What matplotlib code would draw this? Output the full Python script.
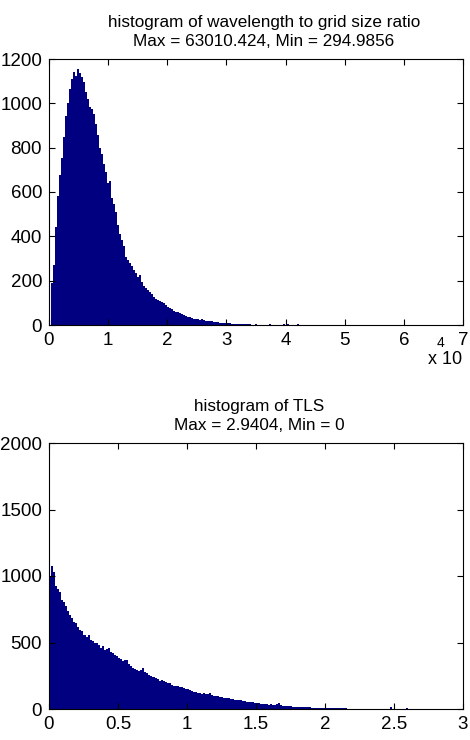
import numpy as np
import matplotlib
matplotlib.use("Agg")
import matplotlib.pyplot as plt

plt.rcParams["font.family"] = ["Liberation Sans", "DejaVu Sans"]

# histogram 1: wavelength to grid size ratio
ratio_min = 294.9856
ratio_max = 63010.424
ratio_counts = (
    [190, 270, 440, 580, 675, 755, 850, 945, 1000, 1065,
     1110, 1140, 1125, 1155, 1135, 1120, 1095, 1050, 1020, 985,
     975, 950, 905, 855, 800, 770, 725, 690, 640, 648,
     575, 545, 510, 450, 412, 385, 355, 305, 295, 278,
     268, 250, 236, 218, 225, 192, 175, 166, 158, 150,
     140, 125, 116, 112, 107, 104, 99, 90, 82, 76,
     74, 62, 60, 58, 54, 50, 45, 42, 37, 34,
     30, 27, 25, 26, 24, 26, 22, 20, 18, 17,
     16, 15, 14, 12, 11, 11, 9, 8, 8, 7,
     6, 6, 5, 5, 4, 4, 3, 4, 3, 3,
     2,
     2, 3, 2, 2, 2, 1, 2, 1, 3, 1, 1, 2, 1, 1, 2, 3, 1, 3, 0, 1,
     1, 0, 3, 2, 0]
    + [0] * 58
    + [1]
)
ratio_ticks = [0, 1, 2, 3, 4, 5, 6, 7]
ratio_yticks = [0, 200, 400, 600, 800, 1000, 1200]

# histogram 2: TLS
tls_min = 0
tls_max = 2.9404
tls_counts = (
    [990, 1075, 1030, 925, 900, 878, 820, 808, 775, 735,
     705, 685, 655, 650, 620, 595, 583, 560, 545, 558,
     520, 510, 500, 495, 478, 462, 470, 443, 448, 455,
     432, 420, 405, 395, 387, 378, 360, 365, 372, 340,
     325, 310, 302, 295, 285, 290, 310, 275, 268, 255,
     248, 242, 236, 228, 212, 215, 208, 200, 196, 198,
     182, 176, 172, 170, 166, 162, 155, 150, 147, 140,
     134, 128, 125, 122, 118, 116, 117, 112, 110, 122,
     105, 96, 100, 98, 92, 88, 82, 83, 80, 75,
     73, 70, 67, 66, 64, 60, 57, 56, 52, 50,
     50, 47, 46, 42, 41, 38, 37, 35, 33, 34,
     31, 30, 36, 47, 28, 25, 24, 22, 21, 20,
     18, 17, 17, 16, 15, 15, 14, 12, 12, 11,
     11, 10, 10, 9, 8, 8, 7, 7, 6, 6,
     6, 5, 5, 5, 4, 4, 4, 3, 3, 3,
     3, 2,
     2, 2, 2, 1, 2, 1, 1, 1, 1,
     1, 1, 0, 1, 0, 1, 0, 12, 1, 0,
     0, 0, 0, 0, 0, 4, 0, 0, 0, 0]
    + [0] * 18
    + [1]
)
tls_ticks = [0, 0.5, 1, 1.5, 2, 2.5, 3]
tls_yticks = [0, 500, 1000, 1500, 2000]

navy = "#000080"
W, H = 470, 740


def matlab_axes(ax):
    ax.tick_params(direction="in", length=4, width=0.8, top=True, right=True,
                   labelsize=13.5, pad=5, color="black")
    for s in ax.spines.values():
        s.set_linewidth(0.8)


fig = plt.figure(figsize=(W / 100, H / 100), dpi=100)

# top panel
ax1 = fig.add_axes([49 / W, 1 - 325 / H, 414 / W, 266 / H])
edges1 = np.linspace(ratio_min, ratio_max, len(ratio_counts) + 1)
ax1.stairs(ratio_counts, edges1, fill=True, color=navy, linewidth=0)
ax1.set_xlim(0, 7e4)
ax1.set_ylim(0, 1200)
ax1.set_xticks([t * 1e4 for t in ratio_ticks])
ax1.set_xticklabels([str(t) for t in ratio_ticks])
ax1.set_yticks(ratio_yticks)
matlab_axes(ax1)
t1 = ax1.set_title("histogram of wavelength to grid size ratio\n"
                   "Max = 63010.424, Min = 294.9856",
                   fontsize=12.3, pad=9, linespacing=1.35)
t1.set_x(0.5 + 8 / 414)
# exponent label under the x axis
fig.text(428 / W, 1 - 359 / H, "x 10", fontsize=13, va="center", ha="left")
fig.text(437 / W, 1 - 343 / H, "4", fontsize=10, va="center", ha="left")

# bottom panel
ax2 = fig.add_axes([49 / W, 1 - 709 / H, 414 / W, 266 / H])
edges2 = np.linspace(tls_min, tls_max, len(tls_counts) + 1)
ax2.stairs(tls_counts, edges2, fill=True, color=navy, linewidth=0)
ax2.set_xlim(0, 3)
ax2.set_ylim(0, 2000)
ax2.set_xticks(tls_ticks)
ax2.set_xticklabels(["0", "0.5", "1", "1.5", "2", "2.5", "3"])
ax2.set_yticks(tls_yticks)
matlab_axes(ax2)
t2 = ax2.set_title("histogram of TLS\nMax = 2.9404, Min = 0",
                   fontsize=12.3, pad=9, linespacing=1.35)
t2.set_x(0.5 + 3 / 414)

fig.savefig("out.png", dpi=100)
